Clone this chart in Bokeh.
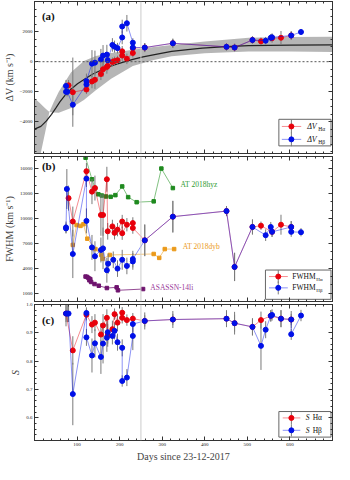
import numpy as np
from bokeh.plotting import figure
from bokeh.models import Range1d, LinearAxis, Span, Label, FixedTicker, PrintfTickFormatter
from bokeh.layouts import column
from bokeh.embed import file_html
from bokeh.resources import INLINE

FONT = "Liberation Serif"
RED = "#e8000b"
BLUE = "#0010e8"
ERR = "#7a7a7a"

# ---------------- data ----------------
# panel (a): velocity offsets
dv_ha_day = [80, 90, 122, 135, 142, 156, 161, 170, 172, 183, 188, 195, 206, 206, 217, 231, 231, 259, 325, 451, 470, 512, 532, 558, 579, 603]
dv_ha = [-1570, -2025, -1850, -1315, -1205, -820, -500, -345, -280, -20, 40, 100, 406, 690, 190, 580, 900, 940, 1225, 987, 942, 1440, 1355, 1560, 1590, 1740]
dv_ha_err = [350, 2300, 300, 450, 600, 400, 500, 450, 300, 300, 300, 300, 350, 350, 350, 300, 300, 300, 300, 250, 250, 250, 250, 300, 450, 300]

dv_hb_day = [74, 74, 77, 90, 122, 122, 135, 142, 156, 161, 170, 172, 183, 188, 195, 206, 206, 217, 231, 231, 259, 325, 451, 470, 512, 543, 555, 558, 603, 626]
dv_hb = [-1613, -2000, -2000, -2860, -1510, -1290, -130, -65, 150, 406, 470, 100, 1115, 1000, 900, 1610, 2340, 2555, 1265, 942, 940, 1225, 987, 942, 1440, 1395, 1590, 1620, 1740, 1975]
dv_hb_err = [400, 300, 300, 700, 500, 500, 900, 800, 700, 700, 650, 500, 450, 400, 350, 450, 450, 550, 300, 300, 300, 300, 250, 250, 250, 250, 250, 250, 250, 200]

model_day = [0, 15, 28, 40, 50, 60, 72, 85, 101, 120, 137, 160, 180, 205, 231, 255, 282, 322, 360, 394, 450, 503, 600, 700]
model_dv = [-4480, -4300, -3935, -3500, -3080, -2650, -2220, -1850, -1465, -1120, -820, -520, -285, -60, 150, 320, 470, 685, 800, 900, 1000, 1070, 1100, 1115]

band_day = [0, 13, 25, 35, 45, 57, 86, 116, 144, 180, 231, 280, 322, 400, 503, 600, 700]
band_hi = [-2430, -2760, -3100, -3350, -2700, -2000, -700, 50, 380, 580, 790, 980, 1115, 1350, 1590, 1640, 1655]
band_lo = [-6500, -6300, -4700, -3350, -3380, -3400, -3080, -2550, -1900, -1130, -284, 120, 361, 560, 684, 670, 645]

# panel (b): FWHM
fw_ha_day = [80, 90, 122, 135, 142, 156, 161, 170, 172, 183, 188, 195, 206, 206, 217, 231, 231, 259, 325, 451, 470, 512, 532, 558, 579, 603]
fw_ha = [12440, 9625, 15680, 13220, 13650, 10410, 10410, 14710, 8450, 9040, 8260, 8650, 9625, 8220, 9240, 9440, 8850, 7360, 10210, 10880, 4160, 8970, 9120, 8380, 9240, 8970]
fw_ha_err = [1500, 1800, 1000, 1500, 1500, 2500, 2500, 1500, 1000, 800, 800, 800, 800, 800, 800, 700, 700, 1900, 1900, 600, 1700, 900, 500, 600, 1200, 700]

fw_hb_day = [74, 74, 76, 90, 122, 122, 135, 142, 156, 161, 170, 173, 185, 195, 206, 217, 231, 231, 259, 325, 451, 470, 512, 543, 555, 558, 603, 603, 626]
fw_hb = [8920, 8800, 13540, 5720, 14780, 9700, 6510, 5450, 6200, 6390, 3765, 4550, 5020, 3960, 5020, 4280, 4820, 5100, 7360, 10210, 10880, 4160, 8970, 7980, 8970, 8380, 8970, 8380, 8340]
fw_hb_err = [700, 600, 2400, 2900, 1000, 1500, 1500, 1800, 1500, 2500, 1500, 1200, 1000, 1000, 1200, 1000, 1000, 1000, 1900, 1900, 600, 1700, 900, 700, 600, 600, 700, 600, 500]

hyz_day = [120, 135, 142, 150, 158, 168, 179, 190, 206, 220, 240, 280, 298, 325]
hyz = [17300, 14710, 13650, 12900, 12750, 12640, 12600, 12800, 13850, 12560, 11950, 12050, 16000, 13650]

dyb_day = [90, 99, 108, 115, 124, 143, 157, 160, 177, 280, 293, 306, 328]
dyb = [6810, 9200, 9100, 9300, 7560, 6310, 5600, 5130, 5600, 5720, 5250, 6310, 6310]

asn_day = [120, 124, 127, 129, 131, 133, 141, 151, 170, 193, 196, 255]
asn = [3000, 2950, 2800, 2550, 2700, 2350, 2100, 1900, 1620, 1700, 1350, 1500]

# panel (c): shape parameter S
s_ha_day = [74, 90, 122, 135, 142, 156, 161, 170, 172, 183, 188, 195, 206, 206, 217, 231, 259, 325, 451, 470, 512, 532, 555, 579, 603]
s_ha = [0.968, 0.838, 0.964, 0.929, 0.936, 0.894, 0.926, 0.953, 0.891, 0.913, 0.966, 0.936, 0.971, 0.953, 0.945, 0.950, 0.942, 0.947, 0.950, 0.934, 0.921, 0.945, 0.960, 0.950, 0.947]
s_ha_err = [0.03, 0.05, 0.02, 0.03, 0.03, 0.04, 0.04, 0.03, 0.04, 0.03, 0.02, 0.03, 0.02, 0.02, 0.02, 0.02, 0.02, 0.02, 0.02, 0.03, 0.03, 0.03, 0.02, 0.03, 0.02]

s_hb_day = [74, 77, 80, 90, 122, 122, 135, 142, 156, 161, 170, 172, 183, 188, 195, 206, 206, 217, 231, 231, 259, 325, 451, 470, 512, 532, 543, 555, 558, 579, 603, 603, 626]
s_hb = [0.968, 0.968, 0.968, 0.684, 0.970, 0.884, 0.820, 0.863, 0.815, 0.862, 0.883, 0.902, 0.889, 0.907, 0.867, 0.847, 0.730, 0.742, 0.889, 0.931, 0.942, 0.947, 0.950, 0.934, 0.921, 0.854, 0.911, 0.960, 0.963, 0.950, 0.947, 0.895, 0.961]
s_hb_err = [0.045, 0.03, 0.03, 0.11, 0.02, 0.03, 0.06, 0.05, 0.06, 0.07, 0.05, 0.04, 0.03, 0.03, 0.03, 0.03, 0.02, 0.03, 0.05, 0.03, 0.03, 0.03, 0.03, 0.04, 0.03, 0.085, 0.03, 0.02, 0.02, 0.03, 0.03, 0.02, 0.02]

x_ticks = [100, 200, 300, 400, 500, 600]
x_minor = list(range(0, 701, 20))
s_ticks = [0.6, 0.7, 0.8, 0.9, 1.0]
s_minor = [round(0.52 + 0.02 * i, 2) for i in range(25)]

W = 334


def style_axis(ax, ticks, minor, labels):
    ax.ticker = FixedTicker(ticks=ticks, minor_ticks=minor)
    ax.major_tick_in = 4
    ax.major_tick_out = 0
    ax.minor_tick_in = 2
    ax.minor_tick_out = 0
    ax.axis_line_color = "#333333"
    ax.major_tick_line_color = "#333333"
    ax.minor_tick_line_color = "#333333"
    ax.major_label_text_font = FONT
    if labels:
        ax.major_label_text_font_size = "5px"
        ax.major_label_standoff = 2
        ax.major_label_text_color = "#222222"
    else:
        ax.major_label_text_font_size = "0px"
        ax.major_label_standoff = 0
        ax.major_label_text_color = None


def make_panel(height, yr, yticks, yminor, ylabel, top, bottom, xlabels):
    p = figure(width=W, height=height, x_range=Range1d(0, 700), y_range=Range1d(*yr),
               output_backend="svg", toolbar_location=None,
               min_border_left=26, min_border_right=2, min_border_top=top, min_border_bottom=bottom)
    p.grid.visible = False
    p.outline_line_color = "#333333"
    p.background_fill_color = "white"
    p.extra_x_ranges = {"leg": Range1d(0, 1)}
    p.extra_y_ranges = {"leg": Range1d(0, 1)}
    xb = p.below[0]
    yl = p.left[0]
    style_axis(xb, x_ticks, x_minor, xlabels)
    style_axis(yl, yticks, yminor, True)
    yl.axis_label = ylabel
    yl.axis_label_text_font = FONT
    yl.axis_label_text_font_size = "10px"
    yl.axis_label_text_font_style = "normal"
    yl.axis_label_standoff = 2
    ax_top = LinearAxis()
    style_axis(ax_top, x_ticks, x_minor, False)
    p.add_layout(ax_top, "above")
    ax_r = LinearAxis()
    style_axis(ax_r, yticks, yminor, False)
    p.add_layout(ax_r, "right")
    p.add_layout(Span(location=250, dimension="height", line_color="#cccccc", line_width=1))
    return p, xb, yl


def errbars(p, d, v, e):
    v = np.array(v, dtype=float)
    e = np.array(e, dtype=float)
    p.segment(x0=d, x1=d, y0=v - e, y1=v + e, line_color=ERR, line_width=1)


def series(p, d, v, color):
    p.line(d, v, line_color=color, line_alpha=0.45, line_width=1)
    p.scatter(d, v, marker="circle", size=5, fill_color=color, line_color=color)


def panel_label(p, txt, y):
    p.add_layout(Label(x=0.025, y=y, x_range_name="leg", y_range_name="leg", text=txt,
                       text_font=FONT, text_font_size="11px", text_font_style="bold",
                       text_baseline="middle", text_color="#111111"))


def legend(p, box, rows, xline, xmark, xtext):
    x0, x1, y0, y1 = box
    p.quad(left=[x0], right=[x1], bottom=[y0], top=[y1], x_range_name="leg", y_range_name="leg",
           fill_color="white", line_color="#666666", line_width=1)
    for yy, col, parts in rows:
        p.segment(x0=[xline[0]], x1=[xline[1]], y0=[yy], y1=[yy], line_color=col, line_alpha=0.45,
                  line_width=1, x_range_name="leg", y_range_name="leg")
        p.segment(x0=[xmark], x1=[xmark], y0=[yy - 0.045], y1=[yy + 0.045], line_color=ERR,
                  line_width=1, x_range_name="leg", y_range_name="leg")
        p.scatter(x=[xmark], y=[yy], marker="circle", size=5, fill_color=col, line_color=col,
                  x_range_name="leg", y_range_name="leg")
        for txt, size, style, dx, dy in parts:
            p.add_layout(Label(x=xtext, y=yy, x_range_name="leg", y_range_name="leg", text=txt,
                               x_offset=dx, y_offset=dy, text_font=FONT, text_font_size=size,
                               text_font_style=style, text_baseline="middle", text_color="#111111"))


# ---------------- panel (a) ----------------
pa, _, _ = make_panel(154, (-6100, 4000), [-4000, -2000, 0, 2000], list(range(-6000, 4001, 500)),
                      "ΔV (km s⁻¹)", 1, 1, False)
pa.varea(x=band_day, y1=band_lo, y2=band_hi, fill_color="#a9a9a9", fill_alpha=0.85)
pa.line(model_day, model_dv, line_color="#222222", line_width=1.2)
pa.add_layout(Span(location=0, dimension="width", line_color="#555555", line_dash="2 2", line_width=1))
errbars(pa, dv_ha_day, dv_ha, dv_ha_err)
errbars(pa, dv_hb_day, dv_hb, dv_hb_err)
series(pa, dv_ha_day, dv_ha, RED)
series(pa, dv_hb_day, dv_hb, BLUE)
panel_label(pa, "(a)", 0.905)
legend(pa, (0.82, 0.995, 0.05, 0.225),
       [(0.178, RED, [("ΔV", "8px", "italic", 0, 0), ("Hα", "5.5px", "normal", 11, -3)]),
        (0.093, BLUE, [("ΔV", "8px", "italic", 0, 0), ("Hβ", "5.5px", "normal", 11, -3)])],
       (0.83, 0.895), 0.862, 0.915)

# ---------------- panel (b) ----------------
pb, _, _ = make_panel(148, (0, 17450), [1000, 4000, 7000, 10000, 13000, 16000], list(range(0, 17001, 1000)),
                      "FWHM (km s⁻¹)", 2, 1, False)
pb.line(hyz_day, hyz, line_color="#2e9a2e", line_alpha=0.6, line_width=1)
pb.scatter(hyz_day, hyz, marker="square", size=3.5, fill_color="#1f8a1f", line_color="#1f8a1f")
pb.line(dyb_day, dyb, line_color="#f2a52a", line_alpha=0.6, line_width=1)
pb.scatter(dyb_day, dyb, marker="square", size=3.5, fill_color="#eb9a1a", line_color="#eb9a1a")
pb.line(asn_day, asn, line_color="#7a1f7a", line_alpha=0.8, line_width=1)
pb.scatter(asn_day, asn, marker="square", size=3.5, fill_color="#6e136e", line_color="#6e136e")
errbars(pb, fw_ha_day, fw_ha, fw_ha_err)
errbars(pb, fw_hb_day, fw_hb, fw_hb_err)
series(pb, fw_ha_day, fw_ha, RED)
series(pb, fw_hb_day, fw_hb, BLUE)
pb.add_layout(Label(x=343, y=14040, text="AT 2018hyz", text_font=FONT, text_font_size="7.5px",
                    text_color="#2e9a2e", text_baseline="middle"))
pb.add_layout(Label(x=348, y=6580, text="AT 2018dyb", text_font=FONT, text_font_size="7.5px",
                    text_color="#eb9a1a", text_baseline="middle"))
pb.add_layout(Label(x=272, y=1740, text="ASASSN-14li", text_font=FONT, text_font_size="7.5px",
                    text_color="#9a3a9a", text_baseline="middle"))
panel_label(pb, "(b)", 0.933)
legend(pb, (0.775, 0.995, 0.015, 0.217),
       [(0.172, RED, [("FWHM", "7.5px", "normal", 0, 0), ("Hα", "5px", "normal", 24, -3)]),
        (0.094, BLUE, [("FWHM", "7.5px", "normal", 0, 0), ("Hβ", "5px", "normal", 24, -3)])],
       (0.787, 0.85), 0.818, 0.865)

# ---------------- panel (c) ----------------
pc, xc, yc = make_panel(162, (0.52, 1.0), s_ticks, s_minor, "S", 2, 20, True)
yc.formatter = PrintfTickFormatter(format="%.1f")
yc.axis_label_text_font_style = "italic"
xc.axis_label = "Days since 23-12-2017"
xc.axis_label_text_font = FONT
xc.axis_label_text_font_size = "10px"
xc.axis_label_text_font_style = "normal"
xc.axis_label_standoff = 2
errbars(pc, s_ha_day, s_ha, s_ha_err)
errbars(pc, s_hb_day, s_hb, s_hb_err)
series(pc, s_ha_day, s_ha, RED)
series(pc, s_hb_day, s_hb, BLUE)
panel_label(pc, "(c)", 0.887)
legend(pc, (0.82, 0.995, 0.025, 0.213),
       [(0.166, RED, [("S", "7.5px", "italic", 0, 0), ("Hα", "7.5px", "normal", 7, 0)]),
        (0.075, BLUE, [("S", "7.5px", "italic", 0, 0), ("Hβ", "7.5px", "normal", 7, 0)])],
       (0.833, 0.892), 0.862, 0.91)

layout = column(pa, pb, pc, spacing=0)
open("out.html", "w").write(file_html(layout, INLINE))
